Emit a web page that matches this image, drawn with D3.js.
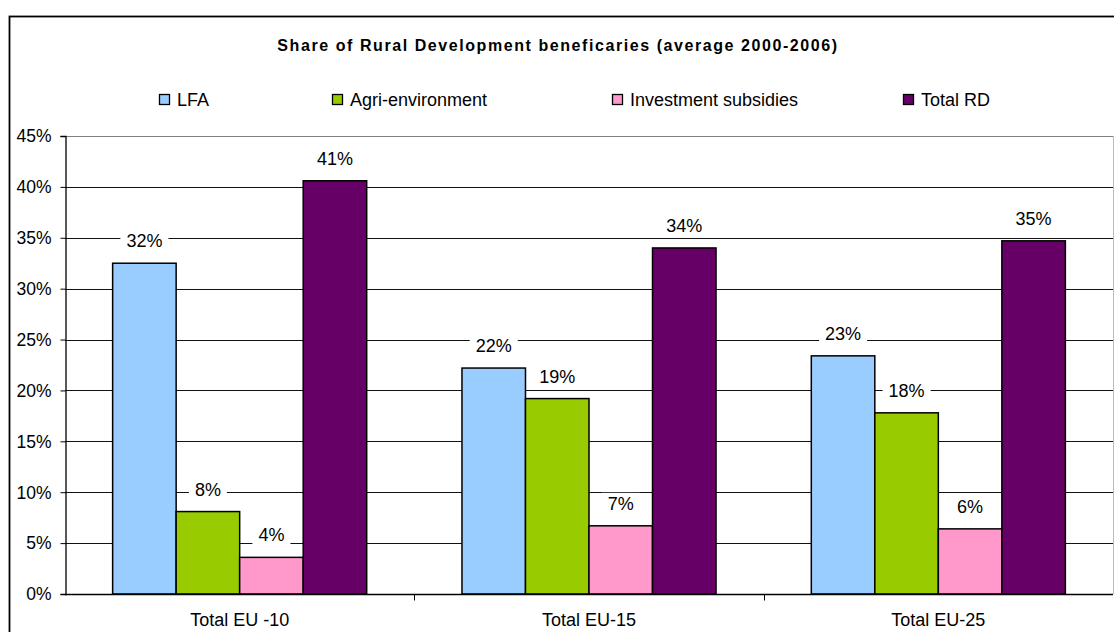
<!DOCTYPE html>
<html>
<head>
<meta charset="utf-8">
<script src="https://cdn.jsdelivr.net/npm/d3@7"></script>
<style>
  html, body { margin: 0; padding: 0; background: #fff; }
  svg { display: block; font-family: "Liberation Sans", Arial, sans-serif; }
</style>
</head>
<body>
<svg id="chart" width="1114" height="632"></svg>
<script>
// Rural Development beneficiaries, average 2000-2006 (share, %)
const categories = ["Total EU -10", "Total EU-15", "Total EU-25"];
const seriesNames = ["LFA", "Agri-environment", "Investment subsidies", "Total RD"];
const seriesColors = ["#99ccff", "#99cc00", "#ff99cc", "#660066"];
const lfa = [32.5, 22.2, 23.4];
const agriEnv = [8.1, 19.2, 17.8];
const investment = [3.6, 6.7, 6.4];
const totalRD = [40.6, 34.0, 34.7];
const valueLabels = [
  ["32%", "22%", "23%"],
  ["8%", "19%", "18%"],
  ["4%", "7%", "6%"],
  ["41%", "34%", "35%"]
];
const yTicks = [0, 5, 10, 15, 20, 25, 30, 35, 40, 45];
const title = "Share of Rural Development beneficaries (average 2000-2006)";

const series = [lfa, agriEnv, investment, totalRD];

const svg = d3.select("#chart");
const plot = { left: 65, right: 1113, top: 136, bottom: 594 };

// outer chart frame
svg.append("rect")
  .attr("x", 9.5).attr("y", 16.5)
  .attr("width", 1110).attr("height", 640)
  .attr("fill", "#fff").attr("stroke", "#000").attr("stroke-width", 1.8);

// title, spread to the frame's title width
const titleText = svg.append("text")
  .attr("x", 558).attr("y", 51)
  .attr("text-anchor", "middle")
  .attr("font-size", 16).attr("font-weight", "bold")
  .text(title);
const tw = titleText.node().getComputedTextLength();
titleText.attr("letter-spacing", ((560 - tw) / (title.length - 1)).toFixed(2) + "px");

// legend
const legendX = [159, 332, 612, 903];
const legend = svg.append("g");
seriesNames.forEach((name, i) => {
  const g = legend.append("g").attr("transform", `translate(${legendX[i]},0)`);
  g.append("rect").attr("x", 0.5).attr("y", 94.5).attr("width", 10).attr("height", 10)
    .attr("fill", seriesColors[i]).attr("stroke", "#000").attr("stroke-width", 1.3);
  g.append("text").attr("x", 18).attr("y", 105.5)
    .attr("font-size", 18).text(name);
});

// scales
const x0 = d3.scaleBand().domain(categories).range([plot.left, plot.right]);
// bar width = band / (4 bars + 150% gap)
const bw = x0.bandwidth() / 5.5;
const barX = (ci, si) => x0(categories[ci]) + bw * 0.75 + si * bw;
const y = d3.scaleLinear().domain([0, 45]).range([plot.bottom, plot.top]);

// gridlines
svg.append("g").selectAll("line").data(yTicks.filter(t => t > 0)).join("line")
  .attr("x1", plot.left).attr("x2", plot.right)
  .attr("y1", d => Math.round(y(d)) + 0.5).attr("y2", d => Math.round(y(d)) + 0.5)
  .attr("stroke", d => d === 45 ? "#808080" : "#111").attr("stroke-width", 1);

// right border of plot area
svg.append("line").attr("x1", plot.right + 0.5).attr("x2", plot.right + 0.5)
  .attr("y1", plot.top).attr("y2", plot.bottom).attr("stroke", "#bbb");

// bars
series.forEach((vals, si) => {
  svg.append("g").selectAll("rect").data(vals).join("rect")
    .attr("x", (d, ci) => barX(ci, si))
    .attr("y", d => y(d))
    .attr("width", bw)
    .attr("height", d => y(0) - y(d))
    .attr("fill", seriesColors[si])
    .attr("stroke", "#000").attr("stroke-width", 1.5);
});

// value labels on a white backing
series.forEach((vals, si) => {
  vals.forEach((v, ci) => {
    const cx = barX(ci, si) + bw / 2;
    const g = svg.append("g");
    const t = g.append("text").attr("x", cx).attr("y", y(v) - 16)
      .attr("text-anchor", "middle").attr("font-size", 18).text(valueLabels[si][ci]);
    const bb = t.node().getBBox();
    g.insert("rect", "text").attr("x", bb.x - 6).attr("y", bb.y - 1)
      .attr("width", bb.width + 12).attr("height", bb.height + 2).attr("fill", "#fff");
  });
});

// y axis
const yAxis = d3.axisLeft(y).tickValues(yTicks).tickFormat(d => d + "%").tickSize(5).tickPadding(9);
const ya = svg.append("g").attr("transform", `translate(${plot.left + 0.5},0)`).call(yAxis);
ya.select(".domain").attr("stroke", "#000").attr("stroke-width", 1.3);
ya.selectAll(".tick line").attr("stroke", "#000");
ya.selectAll(".tick text").attr("font-size", 17.5).attr("fill", "#000")
  .attr("font-family", "Liberation Sans, Arial, sans-serif").attr("dy", "0.33em");

// x axis
const xa = svg.append("g").attr("transform", `translate(0,${plot.bottom + 0.5})`);
xa.append("line").attr("x1", plot.left).attr("x2", plot.right).attr("stroke", "#000").attr("stroke-width", 1.5);
xa.selectAll("line.tk").data(categories.slice(1)).join("line").attr("class", "tk")
  .attr("x1", d => Math.round(x0(d)) + 0.5).attr("x2", d => Math.round(x0(d)) + 0.5)
  .attr("y1", 0).attr("y2", 6).attr("stroke", "#000");
xa.selectAll("text").data(categories).join("text")
  .attr("x", d => x0(d) + x0.bandwidth() / 2).attr("y", 31)
  .attr("text-anchor", "middle").attr("font-size", 18).text(d => d);
</script>
</body>
</html>
